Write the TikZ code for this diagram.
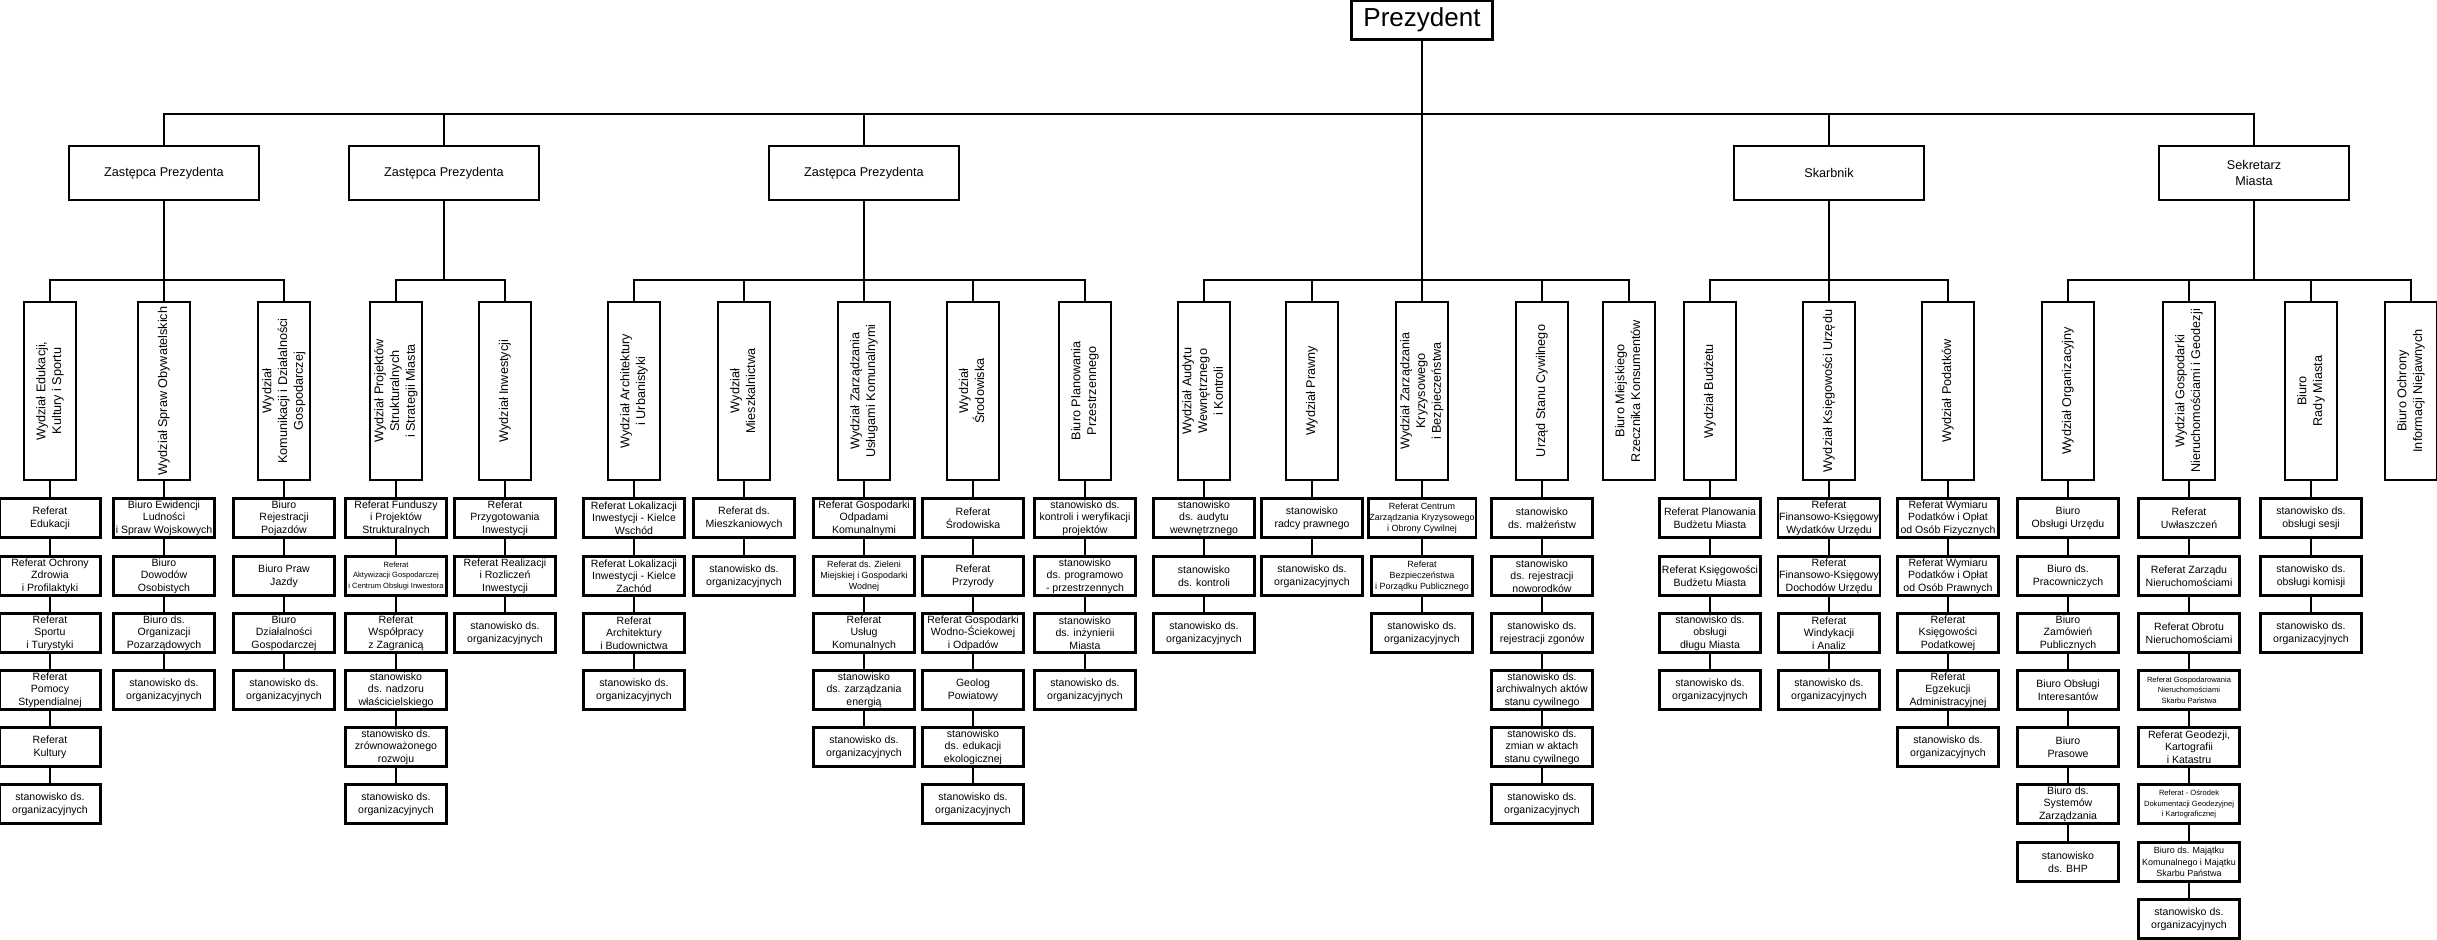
\documentclass[tikz,border=0pt]{standalone}
\usepackage{fontspec}
\setmainfont{Liberation Sans}
\newcommand{\vlabel}[1]{\rotatebox{90}{\begin{tabular}{@{}c@{}}#1\end{tabular}}}

\begin{document}
\begin{tikzpicture}[x=0.1mm, y=-0.1mm, line width=0.6pt,
        prez/.style = {draw, fill=white, minimum width=14.1mm, minimum height=3.9mm, inner sep=0pt, font=\fontsize{7.4}{8}\selectfont},
        zast/.style = {draw, fill=white, minimum width=19mm, minimum height=5.4mm, align=center, font=\fontsize{3.6}{4.5}\selectfont},
        wydz/.style = {draw, fill=white, minimum width=5.2mm, minimum height=17.8mm, inner sep=0.2mm, font=\fontsize{3.6}{4.5}\selectfont},
        sub/.style = {draw, fill=white, minimum width=10.1mm, minimum height=3.9mm, inner xsep=0.1mm, inner ysep=0.1pt, align=center, font=\fontsize{3}{3.6}\selectfont},
        subsmall/.style = {sub, font=\fontsize{2.55}{3.2}\selectfont},
        subtiny/.style = {sub, font=\fontsize{2.15}{3}\selectfont}]
        \useasboundingbox (0,0) rectangle (2437,939);

        % kierownictwo
        \node[prez] (prez) at (1422,20) {Prezydent};
        \node[zast] (zast1) at (164,173) {Zastępca Prezydenta};
        \node[zast] (zast2) at (444,173) {Zastępca Prezydenta};
        \node[zast] (zast3) at (864,173) {Zastępca Prezydenta};
        \node[zast] (skarb) at (1829,173) {Skarbnik};
        \node[zast] (sekr) at (2254,173) {Sekretarz\\Miasta};
        \coordinate (t) at (1422,114);
        \coordinate (b1) at (164,280);
        \coordinate (b2) at (444,280);
        \coordinate (b3) at (864,280);
        \coordinate (b4) at (1422,280);
        \coordinate (b5) at (1829,280);
        \coordinate (b6) at (2254,280);

        % wydzialy
        \node[wydz] (w1) at (50,391) {\vlabel{Wydział Edukacji,\\Kultury i Sportu}};
        \node[wydz] (w2) at (164,391) {\vlabel{Wydział Spraw Obywatelskich}};
        \node[wydz] (w3) at (284,391) {\vlabel{Wydział\\Komunikacji i Działalności\\Gospodarczej}};
        \node[wydz] (w4) at (396,391) {\vlabel{Wydział Projektów\\Strukturalnych\\i Strategii Miasta}};
        \node[wydz] (w5) at (505,391) {\vlabel{Wydział Inwestycji}};
        \node[wydz] (w6) at (634,391) {\vlabel{Wydział Architektury\\i Urbanistyki}};
        \node[wydz] (w7) at (744,391) {\vlabel{Wydział\\Mieszkalnictwa}};
        \node[wydz] (w8) at (864,391) {\vlabel{Wydział Zarządzania\\Usługami Komunalnymi}};
        \node[wydz] (w9) at (973,391) {\vlabel{Wydział\\Środowiska}};
        \node[wydz] (w10) at (1085,391) {\vlabel{Biuro Planowania\\Przestrzennego}};
        \node[wydz] (w11) at (1204,391) {\vlabel{Wydział Audytu\\Wewnętrznego\\i Kontroli}};
        \node[wydz] (w12) at (1312,391) {\vlabel{Wydział Prawny}};
        \node[wydz] (w13) at (1422,391) {\vlabel{Wydział Zarządzania\\Kryzysowego\\i Bezpieczeństwa}};
        \node[wydz] (w14) at (1542,391) {\vlabel{Urząd Stanu Cywilnego}};
        \node[wydz] (w15) at (1629,391) {\vlabel{Biuro Miejskiego\\Rzecznika Konsumentów}};
        \node[wydz] (w16) at (1710,391) {\vlabel{Wydział Budżetu}};
        \node[wydz] (w17) at (1829,391) {\vlabel{Wydział Księgowości Urzędu}};
        \node[wydz] (w18) at (1948,391) {\vlabel{Wydział Podatków}};
        \node[wydz] (w19) at (2068,391) {\vlabel{Wydział Organizacyjny}};
        \node[wydz] (w20) at (2189,391) {\vlabel{Wydział Gospodarki\\Nieruchomościami i Geodezji}};
        \node[wydz] (w21) at (2311,391) {\vlabel{Biuro\\Rady Miasta}};
        \node[wydz] (w22) at (2411,391) {\vlabel{Biuro Ochrony\\Informacji Niejawnych}};

        % komorki
        \node[sub] (w1a) at (50,518) {Referat\\Edukacji};
        \node[sub] (w1b) at (50,576) {Referat Ochrony\\Zdrowia\\i Profilaktyki};
        \node[sub] (w1c) at (50,633) {Referat\\Sportu\\i Turystyki};
        \node[sub] (w1d) at (50,690) {Referat\\Pomocy\\Stypendialnej};
        \node[sub] (w1e) at (50,747) {Referat\\Kultury};
        \node[sub] (w1f) at (50,804) {stanowisko ds.\\organizacyjnych};

        \node[sub] (w2a) at (164,518) {Biuro Ewidencji\\Ludności\\i Spraw Wojskowych};
        \node[sub] (w2b) at (164,576) {Biuro\\Dowodów\\Osobistych};
        \node[sub] (w2c) at (164,633) {Biuro ds.\\Organizacji\\Pozarządowych};
        \node[sub] (w2d) at (164,690) {stanowisko ds.\\organizacyjnych};

        \node[sub] (w3a) at (284,518) {Biuro\\Rejestracji\\Pojazdów};
        \node[sub] (w3b) at (284,576) {Biuro Praw\\Jazdy};
        \node[sub] (w3c) at (284,633) {Biuro\\Działalności\\Gospodarczej};
        \node[sub] (w3d) at (284,690) {stanowisko ds.\\organizacyjnych};

        \node[sub] (w4a) at (396,518) {Referat Funduszy\\i Projektów\\Strukturalnych};
        \node[subtiny] (w4b) at (396,576) {Referat\\Aktywizacji Gospodarczej\\i Centrum Obsługi Inwestora};
        \node[sub] (w4c) at (396,633) {Referat\\Współpracy\\z Zagranicą};
        \node[sub] (w4d) at (396,690) {stanowisko\\ds. nadzoru\\właścicielskiego};
        \node[sub] (w4e) at (396,747) {stanowisko ds.\\zrównoważonego\\rozwoju};
        \node[sub] (w4f) at (396,804) {stanowisko ds.\\organizacyjnych};

        \node[sub] (w5a) at (505,518) {Referat\\Przygotowania\\Inwestycji};
        \node[sub] (w5b) at (505,576) {Referat Realizacji\\i Rozliczeń\\Inwestycji};
        \node[sub] (w5c) at (505,633) {stanowisko ds.\\organizacyjnych};

        \node[sub] (w6a) at (634,518) {Referat Lokalizacji\\Inwestycji - Kielce\\Wschód};
        \node[sub] (w6b) at (634,576) {Referat Lokalizacji\\Inwestycji - Kielce\\Zachód};
        \node[sub] (w6c) at (634,633) {Referat\\Architektury\\i Budownictwa};
        \node[sub] (w6d) at (634,690) {stanowisko ds.\\organizacyjnych};

        \node[sub] (w7a) at (744,518) {Referat ds.\\Mieszkaniowych};
        \node[sub] (w7b) at (744,576) {stanowisko ds.\\organizacyjnych};

        \node[sub] (w8a) at (864,518) {Referat Gospodarki\\Odpadami\\Komunalnymi};
        \node[subsmall] (w8b) at (864,576) {Referat ds. Zieleni\\Miejskiej i Gospodarki\\Wodnej};
        \node[sub] (w8c) at (864,633) {Referat\\Usług\\Komunalnych};
        \node[sub] (w8d) at (864,690) {stanowisko\\ds. zarządzania\\energią};
        \node[sub] (w8e) at (864,747) {stanowisko ds.\\organizacyjnych};

        \node[sub] (w9a) at (973,518) {Referat\\Środowiska};
        \node[sub] (w9b) at (973,576) {Referat\\Przyrody};
        \node[sub] (w9c) at (973,633) {Referat Gospodarki\\Wodno-Ściekowej\\i Odpadów};
        \node[sub] (w9d) at (973,690) {Geolog\\Powiatowy};
        \node[sub] (w9e) at (973,747) {stanowisko\\ds. edukacji\\ekologicznej};
        \node[sub] (w9f) at (973,804) {stanowisko ds.\\organizacyjnych};

        \node[sub] (w10a) at (1085,518) {stanowisko ds.\\kontroli i weryfikacji\\projektów};
        \node[sub] (w10b) at (1085,576) {stanowisko\\ds. programowo\\- przestrzennych};
        \node[sub] (w10c) at (1085,633) {stanowisko\\ds. inżynierii\\Miasta};
        \node[sub] (w10d) at (1085,690) {stanowisko ds.\\organizacyjnych};

        \node[sub] (w11a) at (1204,518) {stanowisko\\ds. audytu\\wewnętrznego};
        \node[sub] (w11b) at (1204,576) {stanowisko\\ds. kontroli};
        \node[sub] (w11c) at (1204,633) {stanowisko ds.\\organizacyjnych};

        \node[sub] (w12a) at (1312,518) {stanowisko\\radcy prawnego};
        \node[sub] (w12b) at (1312,576) {stanowisko ds.\\organizacyjnych};

        \node[subsmall] (w13a) at (1422,518) {Referat Centrum\\Zarządzania Kryzysowego\\i Obrony Cywilnej};
        \node[subsmall] (w13b) at (1422,576) {Referat\\Bezpieczeństwa\\i Porządku Publicznego};
        \node[sub] (w13c) at (1422,633) {stanowisko ds.\\organizacyjnych};

        \node[sub] (w14a) at (1542,518) {stanowisko\\ds. małżeństw};
        \node[sub] (w14b) at (1542,576) {stanowisko\\ds. rejestracji\\noworodków};
        \node[sub] (w14c) at (1542,633) {stanowisko ds.\\rejestracji zgonów};
        \node[sub] (w14d) at (1542,690) {stanowisko ds.\\archiwalnych aktów\\stanu cywilnego};
        \node[sub] (w14e) at (1542,747) {stanowisko ds.\\zmian w aktach\\stanu cywilnego};
        \node[sub] (w14f) at (1542,804) {stanowisko ds.\\organizacyjnych};

        \node[sub] (w16a) at (1710,518) {Referat Planowania\\Budżetu Miasta};
        \node[sub] (w16b) at (1710,576) {Referat Księgowości\\Budżetu Miasta};
        \node[sub] (w16c) at (1710,633) {stanowisko ds.\\obsługi\\długu Miasta};
        \node[sub] (w16d) at (1710,690) {stanowisko ds.\\organizacyjnych};

        \node[sub] (w17a) at (1829,518) {Referat\\Finansowo-Księgowy\\Wydatków Urzędu};
        \node[sub] (w17b) at (1829,576) {Referat\\Finansowo-Księgowy\\Dochodów Urzędu};
        \node[sub] (w17c) at (1829,633) {Referat\\Windykacji\\i Analiz};
        \node[sub] (w17d) at (1829,690) {stanowisko ds.\\organizacyjnych};

        \node[sub] (w18a) at (1948,518) {Referat Wymiaru\\Podatków i Opłat\\od Osób Fizycznych};
        \node[sub] (w18b) at (1948,576) {Referat Wymiaru\\Podatków i Opłat\\od Osób Prawnych};
        \node[sub] (w18c) at (1948,633) {Referat\\Księgowości\\Podatkowej};
        \node[sub] (w18d) at (1948,690) {Referat\\Egzekucji\\Administracyjnej};
        \node[sub] (w18e) at (1948,747) {stanowisko ds.\\organizacyjnych};

        \node[sub] (w19a) at (2068,518) {Biuro\\Obsługi Urzędu};
        \node[sub] (w19b) at (2068,576) {Biuro ds.\\Pracowniczych};
        \node[sub] (w19c) at (2068,633) {Biuro\\Zamówień\\Publicznych};
        \node[sub] (w19d) at (2068,690) {Biuro Obsługi\\Interesantów};
        \node[sub] (w19e) at (2068,747) {Biuro\\Prasowe};
        \node[sub] (w19f) at (2068,804) {Biuro ds.\\Systemów\\Zarządzania};
        \node[sub] (w19g) at (2068,862) {stanowisko\\ds. BHP};

        \node[sub] (w20a) at (2189,518) {Referat\\Uwłaszczeń};
        \node[sub] (w20b) at (2189,576) {Referat Zarządu\\Nieruchomościami};
        \node[sub] (w20c) at (2189,633) {Referat Obrotu\\Nieruchomościami};
        \node[subtiny] (w20d) at (2189,690) {Referat Gospodarowania\\Nieruchomościami\\Skarbu Państwa};
        \node[sub] (w20e) at (2189,747) {Referat Geodezji,\\Kartografii\\i Katastru};
        \node[subtiny] (w20f) at (2189,804) {Referat - Ośrodek\\Dokumentacji Geodezyjnej\\i Kartograficznej};
        \node[subsmall] (w20g) at (2189,862) {Biuro ds. Majątku\\Komunalnego i Majątku\\Skarbu Państwa};
        \node[sub] (w20h) at (2189,919) {stanowisko ds.\\organizacyjnych};

        \node[sub] (w21a) at (2311,518) {stanowisko ds.\\obsługi sesji};
        \node[sub] (w21b) at (2311,576) {stanowisko ds.\\obsługi komisji};
        \node[sub] (w21c) at (2311,633) {stanowisko ds.\\organizacyjnych};

        % polaczenia
        \draw (zast1) |- (t) -| (sekr);
        \draw (zast2) |- (t);
        \draw (zast3) |- (t);
        \draw (skarb) |- (t);
        \draw (prez) -- (w13);
        \draw (zast1) -- (w2);
        \draw (w1) |- (b1) -| (w3);
        \draw (zast2) -- (b2);
        \draw (w4) |- (b2) -| (w5);
        \draw (zast3) -- (w8);
        \draw (w6) |- (b3) -| (w10);
        \draw (w7) |- (b3);
        \draw (w9) |- (b3);
        \draw (w11) |- (b4) -| (w15);
        \draw (w12) |- (b4);
        \draw (w14) |- (b4);
        \draw (skarb) -- (w17);
        \draw (w16) |- (b5) -| (w18);
        \draw (sekr) -- (b6);
        \draw (w19) |- (b6) -| (w22);
        \draw (w20) |- (b6);
        \draw (w21) |- (b6);

        \draw (w1) -- (w1a) -- (w1b) -- (w1c) -- (w1d) -- (w1e) -- (w1f);
        \draw (w2) -- (w2a) -- (w2b) -- (w2c) -- (w2d);
        \draw (w3) -- (w3a) -- (w3b) -- (w3c) -- (w3d);
        \draw (w4) -- (w4a) -- (w4b) -- (w4c) -- (w4d) -- (w4e) -- (w4f);
        \draw (w5) -- (w5a) -- (w5b) -- (w5c);
        \draw (w6) -- (w6a) -- (w6b) -- (w6c) -- (w6d);
        \draw (w7) -- (w7a) -- (w7b);
        \draw (w8) -- (w8a) -- (w8b) -- (w8c) -- (w8d) -- (w8e);
        \draw (w9) -- (w9a) -- (w9b) -- (w9c) -- (w9d) -- (w9e) -- (w9f);
        \draw (w10) -- (w10a) -- (w10b) -- (w10c) -- (w10d);
        \draw (w11) -- (w11a) -- (w11b) -- (w11c);
        \draw (w12) -- (w12a) -- (w12b);
        \draw (w13) -- (w13a) -- (w13b) -- (w13c);
        \draw (w14) -- (w14a) -- (w14b) -- (w14c) -- (w14d) -- (w14e) -- (w14f);
        \draw (w16) -- (w16a) -- (w16b) -- (w16c) -- (w16d);
        \draw (w17) -- (w17a) -- (w17b) -- (w17c) -- (w17d);
        \draw (w18) -- (w18a) -- (w18b) -- (w18c) -- (w18d) -- (w18e);
        \draw (w19) -- (w19a) -- (w19b) -- (w19c) -- (w19d) -- (w19e) -- (w19f) -- (w19g);
        \draw (w20) -- (w20a) -- (w20b) -- (w20c) -- (w20d) -- (w20e) -- (w20f) -- (w20g) -- (w20h);
        \draw (w21) -- (w21a) -- (w21b) -- (w21c);
    \end{tikzpicture}
\end{document}
